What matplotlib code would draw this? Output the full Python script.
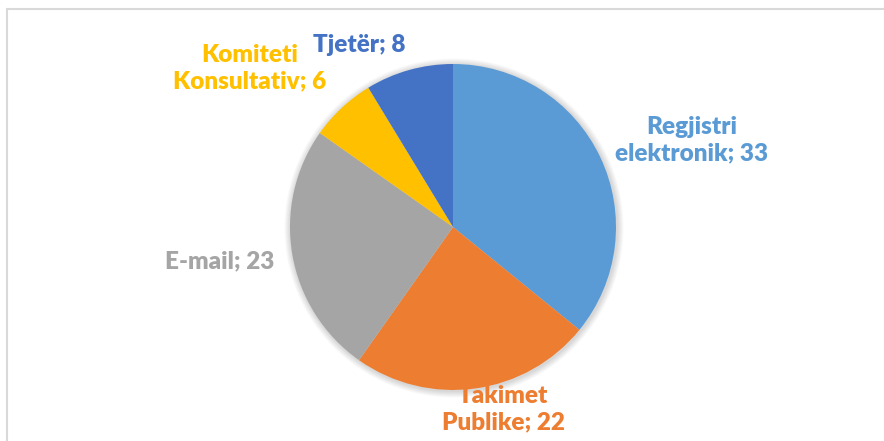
import matplotlib.pyplot as plt
import matplotlib.patches as mpatches

# Data
categories = ['Regjistri\nelektronik', 'Takimet\nPublike', 'E-mail', 'Komiteti\nKonsultativ', 'Tjetër']
values = [33, 22, 23, 6, 8]
colors = ['#5B9BD5', '#ED7D31', '#A5A5A5', '#FFC000', '#4472C4']

# layout in pixel coords (y measured from top)
W, H = 884, 441
center = (453, H - 227)
radius = 163
label_pos = [(692, 140), (503, 409), (220, 261), (250, 68), (359, 45)]

plt.rcParams['font.family'] = ['Lato', 'DejaVu Sans']

fig = plt.figure(figsize=(W / 100, H / 100), dpi=100)
ax = fig.add_axes([0, 0, 1, 1])
ax.set_xlim(0, W)
ax.set_ylim(0, H)
ax.set_aspect('equal')
ax.axis('off')

# chart area border (cropped at right/bottom)
ax.add_patch(mpatches.Rectangle((6.5, -5), W, H - 8.5 + 5, fill=False,
                                edgecolor='#D9D9D9', linewidth=1.5, zorder=0))

# soft shadow around the pie
for i in range(8):
    ax.add_patch(mpatches.Circle((center[0] + 1, center[1] - 1), radius + 1 + i * 0.8,
                                 color='black', alpha=0.018, linewidth=0, zorder=1))

# labels sit underneath the pie (Excel draws "Takimet" partly hidden)
for cat, val, col, (lx, ly) in zip(categories, values, colors, label_pos):
    ax.text(lx, H - ly, f'{cat}; {val}', color=col, fontsize=17.5, fontweight='heavy',
            ha='center', va='center', linespacing=1.25, zorder=1.5)

wedges, _ = ax.pie(values, colors=colors, startangle=90, counterclock=False,
                   center=center, radius=radius, frame=True,
                   wedgeprops=dict(linewidth=0, zorder=2))
ax.set_xlim(0, W)
ax.set_ylim(0, H)
ax.axis('off')

fig.savefig('out.png', dpi=100, facecolor='white')
